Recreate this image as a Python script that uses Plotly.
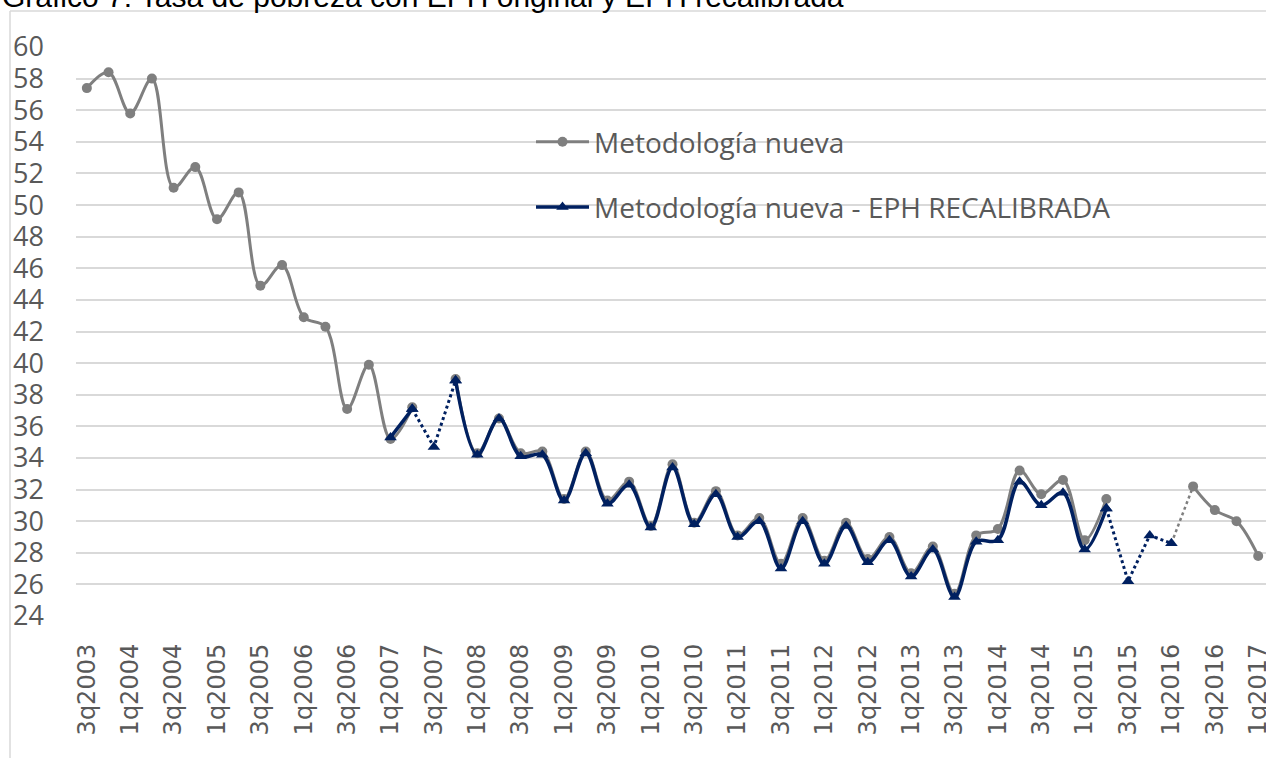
import plotly.graph_objects as go

categories = [
    "3q2003", "4q2003",
    "1q2004", "2q2004", "3q2004", "4q2004",
    "1q2005", "2q2005", "3q2005", "4q2005",
    "1q2006", "2q2006", "3q2006", "4q2006",
    "1q2007", "2q2007", "3q2007", "4q2007",
    "1q2008", "2q2008", "3q2008", "4q2008",
    "1q2009", "2q2009", "3q2009", "4q2009",
    "1q2010", "2q2010", "3q2010", "4q2010",
    "1q2011", "2q2011", "3q2011", "4q2011",
    "1q2012", "2q2012", "3q2012", "4q2012",
    "1q2013", "2q2013", "3q2013", "4q2013",
    "1q2014", "2q2014", "3q2014", "4q2014",
    "1q2015", "2q2015", "3q2015", "4q2015",
    "1q2016", "2q2016", "3q2016", "4q2016",
    "1q2017",
]

tick_labels = [
    "3q2003", "1q2004", "3q2004", "1q2005", "3q2005", "1q2006", "3q2006",
    "1q2007", "3q2007", "1q2008", "3q2008", "1q2009", "3q2009", "1q2010",
    "3q2010", "1q2011", "3q2011", "1q2012", "3q2012", "1q2013", "3q2013",
    "1q2014", "3q2014", "1q2015", "3q2015", "1q2016", "3q2016", "1q2017",
]

# Metodología nueva (None = no data)
nueva = [
    57.4, 58.4,
    55.8, 58.0, 51.1, 52.4,
    49.1, 50.8, 44.9, 46.2,
    42.9, 42.3, 37.1, 39.9,
    35.2, 37.2, None, 39.0,
    34.3, 36.5, 34.3, 34.4,
    31.4, 34.4, 31.3, 32.5,
    29.7, 33.6, 29.9, 31.9,
    29.1, 30.2, 27.3, 30.2,
    27.5, 29.9, 27.6, 29.0,
    26.7, 28.4, 25.4, 29.1,
    29.5, 33.2, 31.7, 32.6,
    28.8, 31.4, None, None,
    None, 32.2, 30.7, 30.0,
    27.8,
]

# Metodología nueva - EPH RECALIBRADA
recalibrada = [
    None, None,
    None, None, None, None,
    None, None, None, None,
    None, None, None, None,
    35.3, 37.1, 34.7, 38.9,
    34.2, 36.5, 34.1, 34.2,
    31.3, 34.3, 31.1, 32.3,
    29.6, 33.4, 29.8, 31.7,
    29.0, 30.0, 27.0, 30.0,
    27.3, 29.7, 27.4, 28.8,
    26.5, 28.2, 25.2, 28.7,
    28.8, 32.5, 31.0, 31.8,
    28.2, 30.8, 26.2, 29.1,
    28.6, None, None, None,
    None,
]

# quarters where only the recalibrated series exists (drawn dotted)
gap_quarters = ["3q2007", "3q2015", "4q2015", "1q2016"]

GRAY = "#7f7f7f"
NAVY = "#002060"
TXT = "#595959"
GRID = "#d9d9d9"

idx = {c: i for i, c in enumerate(categories)}
gap_idx = [idx[c] for c in gap_quarters]

recal_solid = [None if i in gap_idx else v for i, v in enumerate(recalibrada)]
dot_keep = set()
for i in gap_idx:
    dot_keep.update([i - 1, i, i + 1])
recal_dot = [recalibrada[i] if (i in dot_keep and recalibrada[i] is not None) else None
             for i in range(len(categories))]
last_gap = max(gap_idx)
gray_conn_x = [categories[last_gap], categories[last_gap + 1]]
gray_conn_y = [recalibrada[last_gap], nueva[last_gap + 1]]

fig = go.Figure()

fig.add_trace(go.Scatter(
    x=categories, y=nueva, mode="lines+markers", name="Metodología nueva",
    line=dict(color=GRAY, width=3, shape="spline", smoothing=1),
    marker=dict(symbol="circle", size=10, color=GRAY),
    connectgaps=False, legendgroup="a",
))
fig.add_trace(go.Scatter(
    x=gray_conn_x, y=gray_conn_y, mode="lines", showlegend=False,
    line=dict(color=GRAY, width=2.5, dash="dot"), hoverinfo="skip",
))
fig.add_trace(go.Scatter(
    x=categories, y=recal_dot, mode="lines+markers", showlegend=False,
    line=dict(color=NAVY, width=3, dash="dot"),
    marker=dict(symbol="triangle-up", size=11, color=NAVY),
    connectgaps=False,
))
fig.add_trace(go.Scatter(
    x=categories, y=recal_solid, mode="lines+markers",
    name="Metodología nueva - EPH RECALIBRADA",
    line=dict(color=NAVY, width=3.5, shape="spline", smoothing=1),
    marker=dict(symbol="triangle-up", size=11, color=NAVY),
    connectgaps=False, legendgroup="b",
))

W, H = 1266, 758
ML, MR, MT, MB = 76, 0, 47, 142
pw, ph = W - ML - MR, H - MT - MB


def px_x(p):
    return (p - ML) / pw


def px_y(p):
    return (H - MB - p) / ph


fig.update_layout(
    width=W, height=H,
    margin=dict(l=ML, r=MR, t=MT, b=MB, pad=0, autoexpand=False),
    paper_bgcolor="white", plot_bgcolor="white",
    showlegend=True,
    legend=dict(
        x=px_x(531), y=px_y(117), xanchor="left", yanchor="top",
        font=dict(family="Open Sans", size=28, color=TXT),
        bgcolor="rgba(0,0,0,0)", itemwidth=53,
        traceorder="grouped", tracegroupgap=26,
    ),
    xaxis=dict(
        type="category", categoryorder="array", categoryarray=categories,
        range=[-0.5, 54.36], automargin=False,
        tickmode="array", tickvals=tick_labels, ticktext=tick_labels,
        tickangle=-90, ticks="", showgrid=False, showline=False, zeroline=False,
        tickfont=dict(family="DejaVu Sans", size=24, color=TXT),
        ticklabelstandoff=22,
    ),
    yaxis=dict(
        range=[24, 60], tick0=24, dtick=2, ticks="", automargin=False,
        showgrid=True, gridcolor=GRID, gridwidth=1.5,
        showline=False, zeroline=False,
        tickfont=dict(family="Open Sans", size=27, color=TXT),
        ticklabelstandoff=31,
    ),
    shapes=[
        dict(type="line", xref="paper", yref="paper",
             x0=px_x(10), x1=px_x(W + 5), y0=px_y(11), y1=px_y(11),
             line=dict(color=GRID, width=1.5)),
        dict(type="line", xref="paper", yref="paper",
             x0=px_x(10), x1=px_x(10), y0=px_y(11), y1=px_y(H + 5),
             line=dict(color=GRID, width=1.5)),
    ],
    annotations=[
        dict(text="Gráfico 7: Tasa de pobreza con EPH original y EPH recalibrada",
             xref="paper", yref="paper", x=px_x(0), y=px_y(15),
             xanchor="left", yanchor="bottom", showarrow=False,
             font=dict(family="Liberation Sans", size=30, color="#000000")),
    ],
)

fig.write_html("out.html", config={"displayModeBar": False},
               post_script="document.body.style.margin='0';")
